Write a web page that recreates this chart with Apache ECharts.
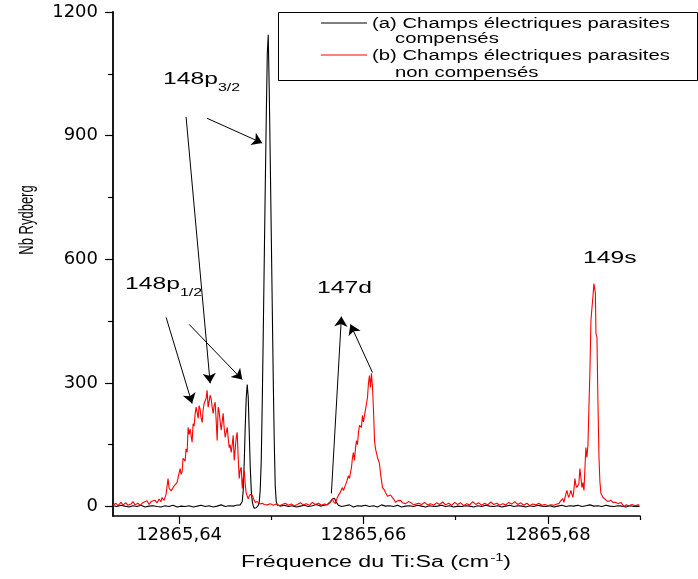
<!DOCTYPE html>
<html>
<head>
<meta charset="utf-8">
<script src="https://cdn.jsdelivr.net/npm/echarts@6/dist/echarts.min.js"></script>
<style>
html, body { margin: 0; padding: 0; background: #fff; }
#main { width: 698px; height: 579px; }
</style>
</head>
<body>
<div id="main"></div>
<script>
// (a) champs compensés - noir
var freqBlack = [
  12865.63283, 12865.63326, 12865.63370, 12865.63413, 12865.63457, 12865.63500, 12865.63543, 12865.63587,
  12865.63630, 12865.63674, 12865.63717, 12865.63761, 12865.63804, 12865.63848, 12865.63891, 12865.63935,
  12865.63978, 12865.64022, 12865.64065, 12865.64109, 12865.64152, 12865.64196, 12865.64239, 12865.64283,
  12865.64326, 12865.64370, 12865.64413, 12865.64457, 12865.64500, 12865.64544, 12865.64587, 12865.64620,
  12865.64641, 12865.64663, 12865.64685, 12865.64696, 12865.64707, 12865.64717, 12865.64728, 12865.64739,
  12865.64750, 12865.64761, 12865.64772, 12865.64783, 12865.64794, 12865.64804, 12865.64815, 12865.64826,
  12865.64837, 12865.64848, 12865.64859, 12865.64870, 12865.64880, 12865.64891, 12865.64902, 12865.64913,
  12865.64924, 12865.64935, 12865.64946, 12865.64957, 12865.64967, 12865.64978, 12865.64989, 12865.65000,
  12865.65011, 12865.65022, 12865.65033, 12865.65043, 12865.65054, 12865.65065, 12865.65098, 12865.65141,
  12865.65185, 12865.65228, 12865.65272, 12865.65315, 12865.65359, 12865.65402, 12865.65446, 12865.65489,
  12865.65533, 12865.65576, 12865.65609, 12865.65641, 12865.65663, 12865.65674, 12865.65685, 12865.65707,
  12865.65728, 12865.65761, 12865.65804, 12865.65848, 12865.65891, 12865.65935, 12865.65978, 12865.66022,
  12865.66065, 12865.66109, 12865.66152, 12865.66196, 12865.66239, 12865.66283, 12865.66326, 12865.66370,
  12865.66413, 12865.66457, 12865.66500, 12865.66544, 12865.66587, 12865.66631, 12865.66674, 12865.66717,
  12865.66761, 12865.66804, 12865.66848, 12865.66891, 12865.66935, 12865.66978, 12865.67022, 12865.67065,
  12865.67109, 12865.67152, 12865.67196, 12865.67239, 12865.67283, 12865.67326, 12865.67370, 12865.67413,
  12865.67457, 12865.67500, 12865.67544, 12865.67587, 12865.67631, 12865.67674, 12865.67718, 12865.67761,
  12865.67805, 12865.67848, 12865.67891, 12865.67935, 12865.67978, 12865.68022, 12865.68065, 12865.68109,
  12865.68152, 12865.68196, 12865.68239, 12865.68283, 12865.68326, 12865.68370, 12865.68413, 12865.68457,
  12865.68500, 12865.68544, 12865.68587, 12865.68631, 12865.68674, 12865.68718, 12865.68761, 12865.68805,
  12865.68848, 12865.68892, 12865.68935, 12865.68978, 12865.68995
];
var countBlack = [
  2, 0, 3, 1, -1, 2, 0, 3,
  -1, 1, 2, 0, -1, 2, 0, 3,
  -1, 1, 0, 2, -1, 1, 3, 0,
  2, -1, 1, 4, 0, 2, 1, 3,
  2, 4, 12, 40, 110, 190, 262, 296,
  265, 180, 95, 38, 12, 2, -4, -5,
  -3, 0, 3, 12, 40, 110, 250, 420,
  600, 780, 950, 1100, 1145, 1010, 840, 660,
  480, 300, 150, 50, 12, 4, 1, 3,
  0, 2, -1, 1, 3, 0, 2, 5,
  1, 3, 5, 12, 18, 22, 20, 10,
  3, 0, 2, 4, -1, 2, 1, 3,
  0, 2, -1, 4, 1, 2, 0, 3,
  -1, 1, 2, 0, 3, 1, -1, 2,
  0, 1, 3, 0, 2, -1, 1, 0,
  2, 1, -1, 2, 0, 3, 1, 0,
  2, -1, 1, 3, 0, 2, 1, -1,
  2, 0, 3, 1, 0, 2, -1, 1,
  3, 0, 2, 1, 3, 0, 2, 4,
  1, 2, 0, 3, 1, 0, 2, 1,
  -1, 2, 0, 1, 0
];

// (b) champs non compensés - rouge
var freqRed = [
  12865.63283, 12865.63315, 12865.63337, 12865.63370, 12865.63391, 12865.63424, 12865.63446, 12865.63478,
  12865.63500, 12865.63522, 12865.63554, 12865.63576, 12865.63609, 12865.63630, 12865.63652, 12865.63674,
  12865.63696, 12865.63717, 12865.63739, 12865.63761, 12865.63783, 12865.63804, 12865.63815, 12865.63837,
  12865.63859, 12865.63880, 12865.63891, 12865.63913, 12865.63924, 12865.63946, 12865.63967, 12865.63978,
  12865.63989, 12865.64011, 12865.64022, 12865.64033, 12865.64043, 12865.64065, 12865.64076, 12865.64087,
  12865.64098, 12865.64109, 12865.64120, 12865.64130, 12865.64141, 12865.64152, 12865.64163, 12865.64174,
  12865.64185, 12865.64196, 12865.64207, 12865.64217, 12865.64228, 12865.64239, 12865.64250, 12865.64261,
  12865.64272, 12865.64283, 12865.64293, 12865.64304, 12865.64315, 12865.64326, 12865.64337, 12865.64348,
  12865.64359, 12865.64370, 12865.64380, 12865.64391, 12865.64402, 12865.64413, 12865.64424, 12865.64435,
  12865.64446, 12865.64457, 12865.64467, 12865.64478, 12865.64489, 12865.64500, 12865.64511, 12865.64522,
  12865.64533, 12865.64544, 12865.64554, 12865.64565, 12865.64576, 12865.64587, 12865.64598, 12865.64609,
  12865.64620, 12865.64630, 12865.64641, 12865.64652, 12865.64663, 12865.64674, 12865.64685, 12865.64696,
  12865.64707, 12865.64717, 12865.64728, 12865.64739, 12865.64750, 12865.64761, 12865.64772, 12865.64794,
  12865.64815, 12865.64826, 12865.64848, 12865.64859, 12865.64880, 12865.64902, 12865.64924, 12865.64957,
  12865.64989, 12865.65022, 12865.65054, 12865.65087, 12865.65120, 12865.65152, 12865.65185, 12865.65217,
  12865.65250, 12865.65283, 12865.65315, 12865.65348, 12865.65380, 12865.65413, 12865.65446, 12865.65478,
  12865.65511, 12865.65544, 12865.65576, 12865.65609, 12865.65641, 12865.65663, 12865.65674, 12865.65696,
  12865.65717, 12865.65728, 12865.65750, 12865.65772, 12865.65783, 12865.65804, 12865.65815, 12865.65826,
  12865.65837, 12865.65848, 12865.65870, 12865.65881, 12865.65891, 12865.65902, 12865.65913, 12865.65924,
  12865.65935, 12865.65946, 12865.65957, 12865.65978, 12865.65989, 12865.66000, 12865.66011, 12865.66022,
  12865.66033, 12865.66044, 12865.66054, 12865.66065, 12865.66076, 12865.66087, 12865.66098, 12865.66109,
  12865.66120, 12865.66131, 12865.66152, 12865.66174, 12865.66185, 12865.66207, 12865.66228, 12865.66239,
  12865.66261, 12865.66272, 12865.66294, 12865.66315, 12865.66337, 12865.66348, 12865.66370, 12865.66402,
  12865.66424, 12865.66457, 12865.66489, 12865.66511, 12865.66544, 12865.66565, 12865.66598, 12865.66631,
  12865.66663, 12865.66696, 12865.66728, 12865.66761, 12865.66794, 12865.66826, 12865.66859, 12865.66891,
  12865.66924, 12865.66957, 12865.66989, 12865.67022, 12865.67054, 12865.67087, 12865.67120, 12865.67152,
  12865.67185, 12865.67218, 12865.67250, 12865.67283, 12865.67315, 12865.67348, 12865.67381, 12865.67413,
  12865.67446, 12865.67478, 12865.67511, 12865.67544, 12865.67576, 12865.67609, 12865.67641, 12865.67674,
  12865.67707, 12865.67739, 12865.67772, 12865.67805, 12865.67837, 12865.67870, 12865.67902, 12865.67935,
  12865.67968, 12865.68000, 12865.68033, 12865.68065, 12865.68098, 12865.68120, 12865.68141, 12865.68163,
  12865.68174, 12865.68196, 12865.68207, 12865.68218, 12865.68228, 12865.68239, 12865.68250, 12865.68261,
  12865.68272, 12865.68283, 12865.68294, 12865.68305, 12865.68315, 12865.68326, 12865.68337, 12865.68348,
  12865.68359, 12865.68370, 12865.68381, 12865.68392, 12865.68402, 12865.68413, 12865.68424, 12865.68435,
  12865.68446, 12865.68457, 12865.68468, 12865.68478, 12865.68489, 12865.68500, 12865.68511, 12865.68516,
  12865.68522, 12865.68533, 12865.68544, 12865.68555, 12865.68565, 12865.68576, 12865.68598, 12865.68620,
  12865.68631, 12865.68652, 12865.68685, 12865.68707, 12865.68739, 12865.68761, 12865.68794, 12865.68826,
  12865.68848, 12865.68881, 12865.68913, 12865.68946, 12865.68978, 12865.68995
];
var countRed = [
  3, 8, 2, 10, 4, 9, 3, 6,
  12, 4, 8, 3, 10, 6, 14, 5,
  12, 8, 15, 9, 18, 12, 22, 15,
  30, 68, 45, 38, 42, 50, 48, 58,
  70, 92, 78, 85, 117, 110, 140, 132,
  192, 175, 188, 190, 156, 201, 195, 225,
  241, 228, 214, 245, 236, 215, 204, 235,
  250, 248, 262, 282, 241, 255, 270, 262,
  240, 226, 245, 253, 210, 160, 241, 230,
  205, 185, 205, 226, 190, 168, 180, 192,
  165, 143, 150, 131, 150, 173, 112, 140,
  168, 180, 120, 68, 90, 95, 44, 70,
  87, 55, 32, 28, 19, 25, 30, 27,
  15, 10, 12, 10, 6, 8, 5, 4,
  7, 3, 6, 2, 5, 8, 3, 6,
  2, 5, 9, 4, 7, 3, 10, 5,
  8, 3, 6, 4, 10, 19, 12, 7,
  22, 27, 35, 46, 39, 52, 58, 55,
  75, 68, 95, 119, 131, 112, 140, 160,
  150, 180, 197, 192, 221, 205, 221, 235,
  250, 265, 299, 318, 289, 323, 290, 233,
  160, 140, 119, 104, 80, 46, 40, 34,
  25, 22, 28, 27, 15, 10, 14, 15,
  9, 7, 12, 10, 4, 2, 8, 5,
  10, 4, 7, 3, 9, 5, 11, 4,
  8, 3, 10, 5, 9, 2, 7, 4,
  12, 5, 9, 3, 8, 4, 11, 5,
  8, 3, 7, 4, 10, 6, 12, 5,
  9, 3, 8, 2, 6, 4, 8, 3,
  5, 2, 4, 3, 6, 7, 14, 19,
  10, 30, 39, 28, 22, 30, 39, 30,
  22, 40, 68, 52, 46, 50, 56, 92,
  70, 46, 58, 39, 90, 143, 119, 148,
  241, 331, 452, 480, 508, 541, 537, 518,
  420, 411, 250, 119, 60, 32, 22, 18,
  15, 12, 15, 10, 10, 7, 10, 0,
  4, 2, 5, 2, 4, 3
];

var majorX = [12865.64, 12865.66, 12865.68];
var minorX = [12865.65, 12865.67, 12865.69];
var majorY = [0, 300, 600, 900, 1200];
var minorY = [150, 450, 750, 1050];

// flèches [début, pointe] en unités des axes
var arrows = [
  [[12865.64304, 942], [12865.64902, 882]],
  [[12865.64076, 945], [12865.64337, 299]],
  [[12865.63859, 459], [12865.64141, 250]],
  [[12865.64109, 442], [12865.64685, 308]],
  [[12865.65652, 32], [12865.65761, 461]],
  [[12865.66098, 325], [12865.65859, 442]]
];

function pairs(xs, ys) {
  return xs.map(function (x, i) { return [x, ys[i]]; });
}

var chart = echarts.init(document.getElementById('main'));

var txtFont = 'Liberation Sans, Arial, sans-serif';
var stretch = 1.45;

function label(text, x, y, size, align) {
  return {
    type: 'text', x: x, y: y, scaleX: stretch, silent: true,
    style: {
      text: text, fill: '#000', fontSize: size, fontFamily: txtFont,
      align: align || 'left', verticalAlign: 'middle',
      textAlign: align || 'left', textVerticalAlign: 'middle'
    }
  };
}

var option = {
  animation: false,
  backgroundColor: '#fff',
  grid: { left: 113, right: 58, top: 12, bottom: 63 },
  xAxis: [{
    type: 'value', min: 12865.63283, max: 12865.69,
    axisLine: { onZero: false, lineStyle: { color: '#000', width: 1.5 } },
    axisTick: { customValues: majorX, length: 8, inside: false, lineStyle: { color: '#000', width: 1.2 } },
    axisLabel: {
      customValues: majorX, margin: 10, color: '#000', fontSize: 18, fontFamily: 'DejaVu Sans',
      formatter: function (v) { return v.toFixed(2).replace('.', ','); }
    },
    splitLine: { show: false }
  }, {
    type: 'value', min: 12865.63283, max: 12865.69, position: 'bottom',
    axisLine: { show: false, onZero: false },
    axisTick: { customValues: minorX, length: 4, lineStyle: { color: '#000', width: 1.2 } },
    axisLabel: { show: false },
    splitLine: { show: false }
  }],
  yAxis: [{
    type: 'value', min: -23, max: 1200,
    axisLine: { show: true, onZero: false, lineStyle: { color: '#000', width: 1.8 } },
    axisTick: { show: true, customValues: majorY, length: 8, lineStyle: { color: '#000', width: 1.2 } },
    axisLabel: {
      customValues: majorY, margin: 15, color: '#000', fontSize: 18, fontFamily: 'DejaVu Sans',
      formatter: function (v) { return String(v); }
    },
    splitLine: { show: false }
  }, {
    type: 'value', min: -23, max: 1200, position: 'left',
    axisLine: { show: false, onZero: false },
    axisTick: { show: true, customValues: minorY, length: 5, lineStyle: { color: '#000', width: 1.2 } },
    axisLabel: { show: false },
    splitLine: { show: false }
  }],
  series: [{
    name: '(a) Champs électriques parasites compensés',
    type: 'line', data: pairs(freqBlack, countBlack),
    symbol: 'none', z: 2,
    lineStyle: { color: '#000', width: 1.1 }, itemStyle: { color: '#000' },
    markLine: {
      silent: true, symbol: ['none', 'arrow'], symbolSize: 10,
      label: { show: false },
      lineStyle: { color: '#000', width: 1, type: 'solid' },
      data: arrows.map(function (a) { return [{ coord: a[0] }, { coord: a[1] }]; })
    }
  }, {
    name: '(b) Champs électriques parasites non compensés',
    type: 'line', data: pairs(freqRed, countRed),
    symbol: 'none', z: 3,
    lineStyle: { color: '#ff0000', width: 1.1 }, itemStyle: { color: '#ff0000' }
  }],
  graphic: [
    // légende
    { type: 'rect', shape: { x: 278.5, y: 12.5, width: 419, height: 68 },
      style: { fill: '#fff', stroke: '#000', lineWidth: 1 }, z: 10 },
    { type: 'line', shape: { x1: 321, y1: 23, x2: 367, y2: 23 }, style: { stroke: '#000', lineWidth: 1 }, z: 11 },
    { type: 'line', shape: { x1: 321, y1: 55, x2: 367, y2: 55 }, style: { stroke: '#ff0000', lineWidth: 1 }, z: 11 },
    Object.assign(label('(a) Champs électriques parasites', 372, 24, 14), { z: 11 }),
    Object.assign(label('compensés', 395, 39, 14), { z: 11 }),
    Object.assign(label('(b) Champs électriques parasites', 372, 56, 14), { z: 11 }),
    Object.assign(label('non compensés', 395, 73, 14), { z: 11 }),
    // étiquettes des raies
    label('148p', 163, 79, 17),
    label('3/2', 218, 88, 11),
    label('148p', 125, 284, 17),
    label('1/2', 180, 293, 11),
    label('147d', 317, 288, 17),
    label('149s', 583, 258, 17),
    // titres des axes
    {
      type: 'text', x: 376, y: 563, scaleX: stretch, silent: true,
      style: {
        text: '{a|Fréquence du Ti:Sa (cm}{s|-1}{a|)}',
        align: 'center', verticalAlign: 'middle', textAlign: 'center', textVerticalAlign: 'middle',
        rich: {
          a: { fontSize: 16, fontFamily: txtFont, fill: '#000', color: '#000', lineHeight: 20 },
          s: { fontSize: 10, fontFamily: txtFont, fill: '#000', color: '#000', verticalAlign: 'top', lineHeight: 20, padding: [0, 0, 8, 1] }
        }
      }
    },
    {
      type: 'text', x: 27, y: 220, rotation: Math.PI / 2, scaleY: 1.6, silent: true,
      style: {
        text: 'Nb Rydberg', fill: '#000', fontSize: 13, fontFamily: txtFont,
        align: 'center', verticalAlign: 'middle', textAlign: 'center', textVerticalAlign: 'middle'
      }
    }
  ]
};

chart.setOption(option);
</script>
</body>
</html>
